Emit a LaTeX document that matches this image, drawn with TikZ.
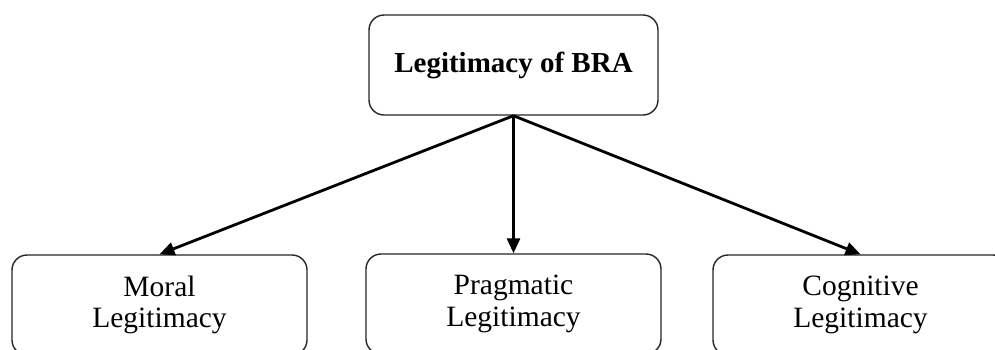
\documentclass[tikz,border=0pt]{standalone}
\usepackage{fontspec}
\setmainfont{Liberation Serif}
\usetikzlibrary{arrows.meta}
\begin{document}
\begin{tikzpicture}[x=1pt,y=-1pt,
  box/.style={draw=black!85,line width=1.4pt,rounded corners=15pt,minimum height=100pt,align=center,inner sep=0pt},
  conn/.style={line width=2.8pt,-{Triangle[length=15pt,width=13pt]}},
  btext/.style={font=\fontsize{29.5}{31.5}\selectfont}]
\fill[white] (0,0) rectangle (995,349);
\useasboundingbox (0,0) rectangle (995,349);
\clip (0,0) rectangle (995,349);
\node[box,minimum width=289pt,font=\bfseries\fontsize{29}{33}\selectfont] (top) at (513.5,65) {Legitimacy of BRA};
\node[box,btext,minimum width=295pt] (moral) at (159.5,305) {Moral\\Legitimacy};
\node[box,btext,minimum width=295pt] (prag) at (513.5,304) {Pragmatic\\Legitimacy};
\node[box,btext,minimum width=295pt] (cog) at (860.5,305) {Cognitive\\Legitimacy};
\draw[conn] (top.south) -- (moral.north);
\draw[conn] (top.south) -- (prag.north);
\draw[conn] (top.south) -- (cog.north);
\end{tikzpicture}
\end{document}
